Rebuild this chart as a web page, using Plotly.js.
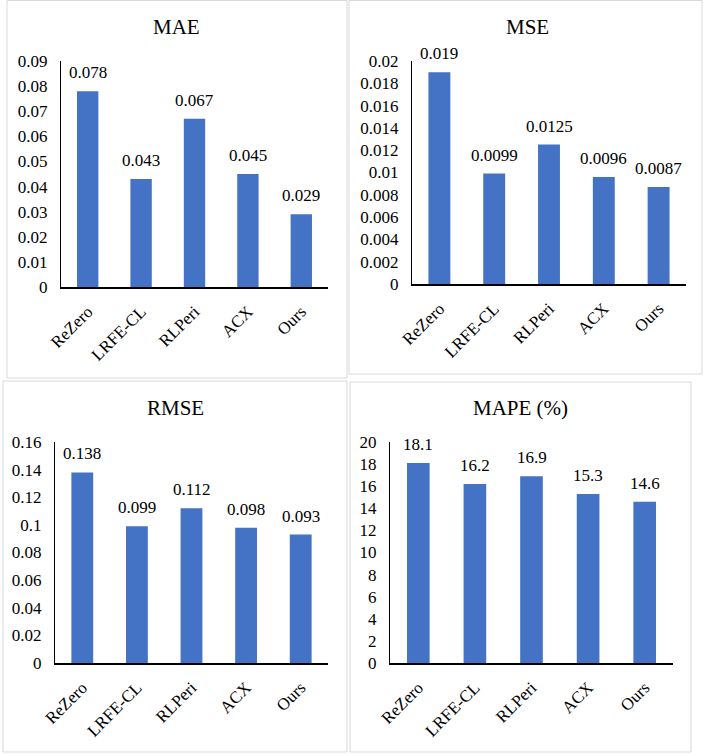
<!DOCTYPE html>
<html>
<head>
<meta charset="utf-8">
<script src="https://cdn.plot.ly/plotly-3.0.1.min.js"></script>
<style>html,body{margin:0;padding:0;background:#fff;}#chart{width:708px;height:756px;}</style>
</head>
<body>
<div id="chart"></div>
<script>
const categories = ["ReZero", "LRFE-CL", "RLPeri", "ACX", "Ours"];
const maeValues = [0.078, 0.043, 0.067, 0.045, 0.029];
const mseValues = [0.019, 0.0099, 0.0125, 0.0096, 0.0087];
const rmseValues = [0.138, 0.099, 0.112, 0.098, 0.093];
const mapeValues = [18.1, 16.2, 16.9, 15.3, 14.6];
const maeLabels = ["0.078", "0.043", "0.067", "0.045", "0.029"];
const mseLabels = ["0.019", "0.0099", "0.0125", "0.0096", "0.0087"];
const rmseLabels = ["0.138", "0.099", "0.112", "0.098", "0.093"];
const mapeLabels = ["18.1", "16.2", "16.9", "15.3", "14.6"];
const panelTitles = ["MAE", "MSE", "RMSE", "MAPE (%)"];
const yRanges = [[0, 0.09], [0, 0.02], [0, 0.16], [0, 20]];
const yDticks = [0.01, 0.002, 0.02, 2];

const W = 708, H = 756;
const px = x => x / W;
const py = y => 1 - y / H;

// panel layout in pixels
const panels = [
  {plot: [61, 328, 61, 287], box: [7, 347, 0.5, 378], title: [176, 27]},
  {plot: [412, 686, 61, 284], box: [349, 702, 0.5, 374], title: [527, 27]},
  {plot: [55, 328, 442, 663], box: [3, 347, 381, 752], title: [175, 408]},
  {plot: [390, 673, 442, 663], box: [350, 691, 382, 752], title: [520, 408]}
];
const allValues = [maeValues, mseValues, rmseValues, mapeValues];
const allLabels = [maeLabels, mseLabels, rmseLabels, mapeLabels];

const FONT = "'Liberation Serif', 'Times New Roman', serif";
const BLUE = "#4472C4";

const data = [];
const layout = {
  width: W, height: H,
  margin: {l: 0, r: 0, t: 0, b: 0},
  paper_bgcolor: "#fff", plot_bgcolor: "#fff",
  showlegend: false,
  bargap: 0.6,
  font: {family: FONT, size: 17, color: "#000"},
  shapes: [], annotations: []
};

panels.forEach((p, i) => {
  const n = i === 0 ? "" : String(i + 1);
  data.push({
    type: "bar",
    x: categories,
    y: allValues[i],
    xaxis: "x" + n,
    yaxis: "y" + n,
    marker: {color: BLUE, line: {width: 0}},
    hoverinfo: "none"
  });
  layout["xaxis" + n] = {
    domain: [px(p.plot[0]), px(p.plot[1])],
    anchor: "y" + n,
    type: "category",
    showline: true, linecolor: "#000", linewidth: 2,
    showgrid: false, zeroline: false,
    ticks: "outside", ticklen: 6, tickcolor: "rgba(0,0,0,0)",
    tickangle: -45,
    tickfont: {family: FONT, size: 17, color: "#000"},
    fixedrange: true
  };
  layout["yaxis" + n] = {
    domain: [py(p.plot[3]), py(p.plot[2])],
    anchor: "x" + n,
    range: yRanges[i],
    tick0: 0, dtick: yDticks[i],
    showline: true, linecolor: "#000", linewidth: 1,
    showgrid: false, zeroline: false,
    ticks: "outside", ticklen: 9, tickcolor: "rgba(0,0,0,0)",
    tickfont: {family: FONT, size: 17, color: "#000"},
    fixedrange: true
  };
  layout.shapes.push({
    type: "rect", xref: "paper", yref: "paper", layer: "below",
    x0: px(p.box[0]), x1: px(p.box[1]), y0: py(p.box[3]), y1: py(p.box[2]),
    line: {color: "#d9d9d9", width: 1}, fillcolor: "rgba(0,0,0,0)"
  });
  layout.annotations.push({
    xref: "paper", yref: "paper", x: px(p.title[0]), y: py(p.title[1]),
    xanchor: "center", yanchor: "middle", showarrow: false,
    text: panelTitles[i], font: {family: FONT, size: 21, color: "#000"}
  });
  categories.forEach((c, j) => {
    layout.annotations.push({
      xref: "x" + n, yref: "y" + n, x: c, y: allValues[i][j],
      xanchor: "center", yanchor: "bottom", yshift: 7, showarrow: false,
      text: allLabels[i][j], font: {family: FONT, size: 17, color: "#000"}
    });
  });
});

Plotly.newPlot("chart", data, layout, {staticPlot: true, displayModeBar: false});
</script>
</body>
</html>
